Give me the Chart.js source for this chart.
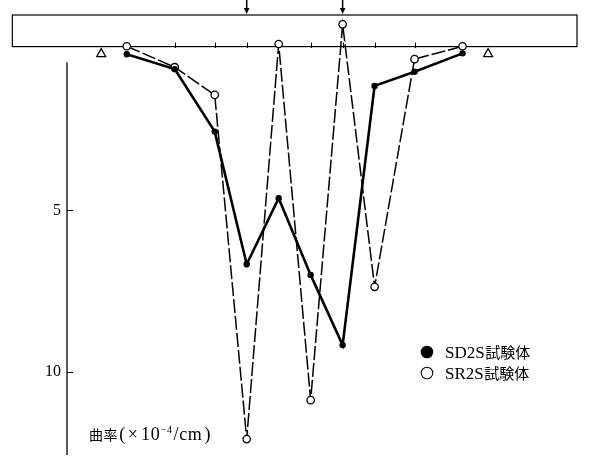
<!DOCTYPE html>
<html>
<head>
<meta charset="utf-8">
<script src="https://cdn.jsdelivr.net/npm/chart.js@4"></script>
<style>
  html, body { margin: 0; padding: 0; background: #fff; }
  canvas { display: block; }
</style>
</head>
<body>
<canvas id="c" width="589" height="461"></canvas>
<script>
// Measuring sections along the beam (units of the beam tick spacing, 0 = midspan)
const positions = [-5.25, -3.75, -2.5, -1.5, -0.5, 0.5, 1.5, 2.5, 3.75, 5.25];
// Curvature (×10^-4 /cm) for each specimen
const sd2s = [0.15, 0.61, 2.55, 6.67, 4.62, 7.00, 9.18, 1.13, 0.69, 0.12];
const sr2s = [-0.10, 0.55, 1.41, 12.10, -0.17, 10.89, -0.78, 7.37, 0.30, -0.10];
const seriesNames = ['SD2S試験体', 'SR2S試験体'];
const yTickValues = [5, 10];
// Beam sketch: load points, supports and section marks
const loadPoints = [-1.5, 1.5];
const supportPoints = [-6.05, 6.05];
const beamMarks = [-3.75, -2.5, -1.5, -0.5, 0.5, 1.5, 2.5, 3.75];
const beamEnds = [-8.83, 8.83];
const beamBottom = -0.09;

const SERIF = '"Liberation Serif", "Times New Roman", serif';
const CJK = '"Noto Sans CJK JP", sans-serif';

// axis title pieces: [text, font, gap before, baseline shift]
const titlePieces = [
  ['曲率', '14px ' + CJK, 0, 0],
  ['(', '18px ' + SERIF, 1, 0],
  ['×', '18px ' + SERIF, 2, 0],
  ['10', '18px ' + SERIF, 2.5, 0],
  ['−4', '10px ' + SERIF, 0.5, -7],
  ['/cm', '18px ' + SERIF, 1, 0],
  [')', '18px ' + SERIF, 2, 0]
];

const beamPlugin = {
  id: 'beamSketch',
  beforeDatasetsDraw(chart) {
    const {ctx, scales: {x, y}, chartArea} = chart;
    ctx.save();
    ctx.strokeStyle = '#000';
    ctx.fillStyle = '#000';
    // beam outline
    const bx0 = x.getPixelForValue(beamEnds[0]);
    const bx1 = x.getPixelForValue(beamEnds[1]);
    const by0 = chartArea.top;
    const by1 = y.getPixelForValue(beamBottom);
    ctx.lineWidth = 1.2;
    ctx.strokeRect(bx0, by0, bx1 - bx0, by1 - by0);
    // section marks on the beam soffit
    ctx.lineWidth = 1;
    beamMarks.forEach(v => {
      const px = Math.round(x.getPixelForValue(v)) + 0.5;
      ctx.beginPath();
      ctx.moveTo(px, by1 - 4);
      ctx.lineTo(px, by1 + 1.5);
      ctx.stroke();
    });
    // load arrows
    loadPoints.forEach(v => {
      const px = x.getPixelForValue(v);
      ctx.lineWidth = 1.5;
      ctx.beginPath();
      ctx.moveTo(px, 0);
      ctx.lineTo(px, by0 - 5);
      ctx.stroke();
      ctx.beginPath();
      ctx.moveTo(px - 2.8, by0 - 7);
      ctx.lineTo(px + 2.8, by0 - 7);
      ctx.lineTo(px, by0 - 1);
      ctx.closePath();
      ctx.fill();
    });
    // supports
    ctx.lineWidth = 1.2;
    supportPoints.forEach(v => {
      const px = x.getPixelForValue(v);
      ctx.beginPath();
      ctx.moveTo(px, by1 + 2);
      ctx.lineTo(px + 4.5, by1 + 10);
      ctx.lineTo(px - 4.5, by1 + 10);
      ctx.closePath();
      ctx.stroke();
    });
    // curvature axis line and inward tick marks
    const ax = chartArea.left;
    ctx.lineWidth = 1.3;
    ctx.beginPath();
    ctx.moveTo(ax, y.getPixelForValue(0.4));
    ctx.lineTo(ax, chartArea.bottom);
    ctx.stroke();
    ctx.lineWidth = 1;
    y.ticks.forEach(t => {
      const py = Math.round(y.getPixelForValue(t.value)) + 0.5;
      ctx.beginPath();
      ctx.moveTo(ax, py);
      ctx.lineTo(ax + 6, py);
      ctx.stroke();
    });
    ctx.restore();
  },
  afterDraw(chart) {
    const {ctx, data} = chart;
    ctx.save();
    ctx.fillStyle = '#000';
    ctx.strokeStyle = '#000';
    // legend
    const lx = 427, ly = [352, 373];
    data.datasets.forEach((ds, i) => {
      ctx.beginPath();
      ctx.arc(lx, ly[i], i === 0 ? 6.3 : 5.8, 0, Math.PI * 2);
      if (i === 0) {
        ctx.fill();
      } else {
        ctx.lineWidth = 1.1;
        ctx.stroke();
      }
      const m = ds.label.match(/^([A-Za-z0-9]+)(.*)$/);
      ctx.textBaseline = 'alphabetic';
      ctx.textAlign = 'left';
      ctx.font = '17px ' + SERIF;
      ctx.fillText(m[1], 445, ly[i] + 6);
      const w = ctx.measureText(m[1]).width;
      ctx.font = '15px ' + CJK;
      ctx.fillText(m[2], 445 + w + 0.5, ly[i] + 6);
    });
    // axis title, set piece by piece so the exponent can be raised
    ctx.textBaseline = 'alphabetic';
    ctx.textAlign = 'left';
    ctx.letterSpacing = '0.6px';
    let tx = 89;
    const ty = 440;
    titlePieces.forEach(([t, f, gap, dy]) => {
      tx += gap;
      ctx.font = f;
      ctx.fillText(t, tx, ty + dy);
      tx += ctx.measureText(t).width;
    });
    ctx.restore();
  }
};

new Chart(document.getElementById('c'), {
  type: 'line',
  data: {
    datasets: [
      {
        label: seriesNames[0],
        data: positions.map((p, i) => ({x: p, y: sd2s[i]})),
        borderColor: '#000',
        borderWidth: 2.6,
        pointRadius: 3.2,
        pointBackgroundColor: '#000',
        pointBorderColor: '#000',
        pointBorderWidth: 0,
        tension: 0
      },
      {
        label: seriesNames[1],
        data: positions.map((p, i) => ({x: p, y: sr2s[i]})),
        borderColor: '#000',
        borderWidth: 1.5,
        borderDash: [14, 3],
        pointRadius: 3.7,
        pointBackgroundColor: '#fff',
        pointBorderColor: '#000',
        pointBorderWidth: 1.3,
        tension: 0
      }
    ]
  },
  options: {
    responsive: false,
    animation: false,
    devicePixelRatio: 1,
    layout: { padding: { left: 0, right: 12, top: 15, bottom: 6 } },
    plugins: { legend: { display: false }, tooltip: { enabled: false } },
    scales: {
      x: { type: 'linear', min: -7.12, max: 8.83, display: false },
      y: {
        type: 'linear',
        reverse: true,
        min: -1.071,
        max: 12.593,
        position: 'left',
        grid: { display: false, drawTicks: false },
        border: { display: false },
        ticks: {
          color: '#000',
          padding: 6,
          font: { family: SERIF, size: 16 }
        },
        afterBuildTicks: s => { s.ticks = yTickValues.map(v => ({value: v})); },
        afterFit: s => { s.width = 67; s.paddingTop = 0; s.paddingBottom = 0; }
      }
    }
  },
  plugins: [beamPlugin]
});
</script>
</body>
</html>
